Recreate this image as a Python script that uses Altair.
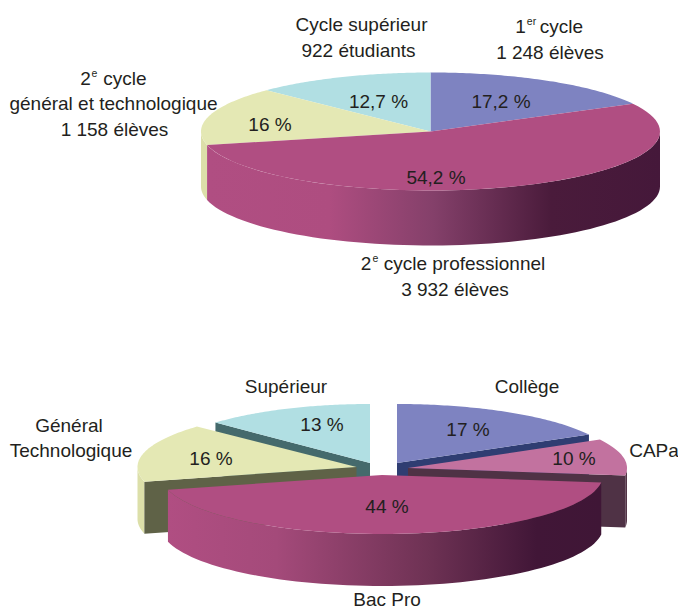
import numpy as np
import pandas as pd
import altair as alt

# ---- data ----
top_names = ["1er cycle", "2e cycle professionnel", "2e cycle general et technologique", "Cycle superieur"]
top_shares = [17.2, 54.2, 16.0, 12.7]
bottom_names = ["College", "CAPa", "Bac Pro", "General Technologique", "Superieur"]
bottom_shares = [17, 10, 44, 16, 13]

label_text = ["Cycle supérieur", "922 étudiants", "cycle", "1 248 élèves", "cycle",
              "général et technologique", "1 158 élèves", "cycle professionnel", "3 932 élèves",
              "Supérieur", "Collège", "Général", "Technologique", "CAPa", "Bac Pro",
              "12,7 %", "17,2 %", "16 %", "54,2 %", "13 %", "17 %", "10 %", "16 %", "44 %"]
label_x = [361.5, 358.5, 561.5, 550, 125, 113.5, 114.5, 464.5, 455, 286, 527, 69, 71, 654, 387,
           378.5, 501, 270, 436, 322, 468, 574, 211, 387]
label_y = [25, 51, 27, 53, 79, 104, 130, 264, 290, 387, 387, 425.5, 451, 451, 599.5,
           102, 102, 125, 178, 425, 430, 459, 459, 507]
digit_text = ["1", "2", "2"]
digit_x = [520.5, 85.5, 366]
digit_y = [27, 79, 264]
sup_text = ["er", "e", "e"]
sup_x = [531.5, 94.5, 375.5]
sup_y = [22, 74, 259]

BLUE, MAG, YEL, TEAL, PINK = "#7e83c1", "#b04e82", "#e4e8b4", "#b1dfe3", "#c2729f"

XS = alt.Scale(domain=[8, 678])
YS = alt.Scale(domain=[610, 8])


def cuts(shares):
    s = np.array(shares, float)
    c = np.concatenate([[0], np.cumsum(s / s.sum())]) * 2 * np.pi
    return c


def arc(cx, cy, rx, ry, t0, t1, n=70):
    t = np.linspace(t0, t1, n)
    return list(zip(cx + rx * np.sin(t), cy - ry * np.cos(t)))


def poly(points, fill):
    df = pd.DataFrame(points, columns=["x", "y"])
    df["i"] = range(len(df))
    return alt.Chart(df).mark_line(
        interpolate="linear-closed", fill=fill, stroke=None, strokeWidth=0
    ).encode(
        x=alt.X("x:Q", scale=XS, axis=None),
        y=alt.Y("y:Q", scale=YS, axis=None),
        order="i:Q",
    )


def sector(c, rx, ry, t0, t1, fill):
    return poly([c] + arc(c[0], c[1], rx, ry, t0, t1), fill)


def outer(c, rx, ry, d, t0, t1, fill):
    a = arc(c[0], c[1], rx, ry, t0, t1)
    b = [(x, y + d) for x, y in a][::-1]
    return poly(a + b, fill)


def cut(c, rx, ry, d, t, fill):
    p = arc(c[0], c[1], rx, ry, t, t, 1)[0]
    return poly([c, p, (p[0], p[1] + d), (c[0], c[1] + d)], fill)


def grad(stops):
    return alt.Gradient(
        gradient="linear", x1=0, x2=1, y1=0, y2=0,
        stops=[alt.GradientStop(offset=o, color=k) for o, k in stops],
    )


H = np.pi / 2
layers = []

# ---- top pie ----
c = cuts(top_shares)
C, RX, RY, D = (430.5, 131.5), 229.5, 59, 55
layers += [
    outer(C, RX, RY, D, c[2], 1.5 * np.pi, "#dcdfa9"),
    outer(C, RX, RY, D, H, c[2], grad([(0, "#b04e82"), (0.27, "#ae4d80"), (0.5, "#84406a"),
                                       (0.76, "#4a1b3b"), (1, "#45183a")])),
    sector(C, RX, RY, c[0], c[1], BLUE),
    sector(C, RX, RY, c[3], c[4], TEAL),
    sector(C, RX, RY, c[2], c[3], YEL),
    sector(C, RX, RY, c[1], c[2], MAG),
]

# ---- bottom pie (exploded) ----
c = cuts(bottom_shares)
RX, RY, D = 219, 59, 52
Cb, Cp, Cm, Cy, Ct = (397, 463), (408, 468), (382, 475), (356.5, 467), (370, 463)
layers += [
    cut(Ct, 212, RY, D, c[4], "#456a6c"),
    sector(Ct, 212, RY, c[4], c[5], TEAL),
    cut(Cb, RX, RY, D, c[1], "#2f3d72"),
    sector(Cb, RX, RY, c[0], c[1], BLUE),
    outer(Cp, RX, RY, D, H, c[2], "#533447"),
    cut(Cp, RX, RY, D, c[2], "#4f3245"),
    sector(Cp, RX, RY, c[1], c[2], PINK),
    outer(Cy, RX, RY, D, c[3], 1.5 * np.pi, "#dcdfa9"),
    cut(Cy, RX, RY, D, c[3], "#5f6247"),
    sector(Cy, RX, RY, c[3], c[4], YEL),
    outer(Cm, 221, RY, D, c[2], c[3], grad([(0, "#b04e82"), (0.25, "#a44a7a"), (0.6, "#6e3254"),
                                            (0.85, "#411637"), (1, "#3f1636")])),
    sector(Cm, 221, RY, c[2], c[3], MAG),
]


def texts(t, x, y, size, color="#231f20"):
    df = pd.DataFrame({"t": t, "x": x, "y": y})
    return alt.Chart(df).mark_text(
        font="Liberation Sans", fontSize=size, color=color, align="center", baseline="middle"
    ).encode(
        x=alt.X("x:Q", scale=XS, axis=None),
        y=alt.Y("y:Q", scale=YS, axis=None),
        text="t:N",
    )


layers += [
    texts(label_text, label_x, label_y, 19),
    texts(digit_text, digit_x, digit_y, 19),
    texts(sup_text, sup_x, sup_y, 10.5),
]

chart = alt.layer(*layers).properties(
    width=670, height=602, padding=0, background="white",
    autosize=alt.AutoSizeParams(type="none"),
).configure_view(stroke=None)

chart.save("out.html", embed_options={"renderer": "svg", "actions": False})
